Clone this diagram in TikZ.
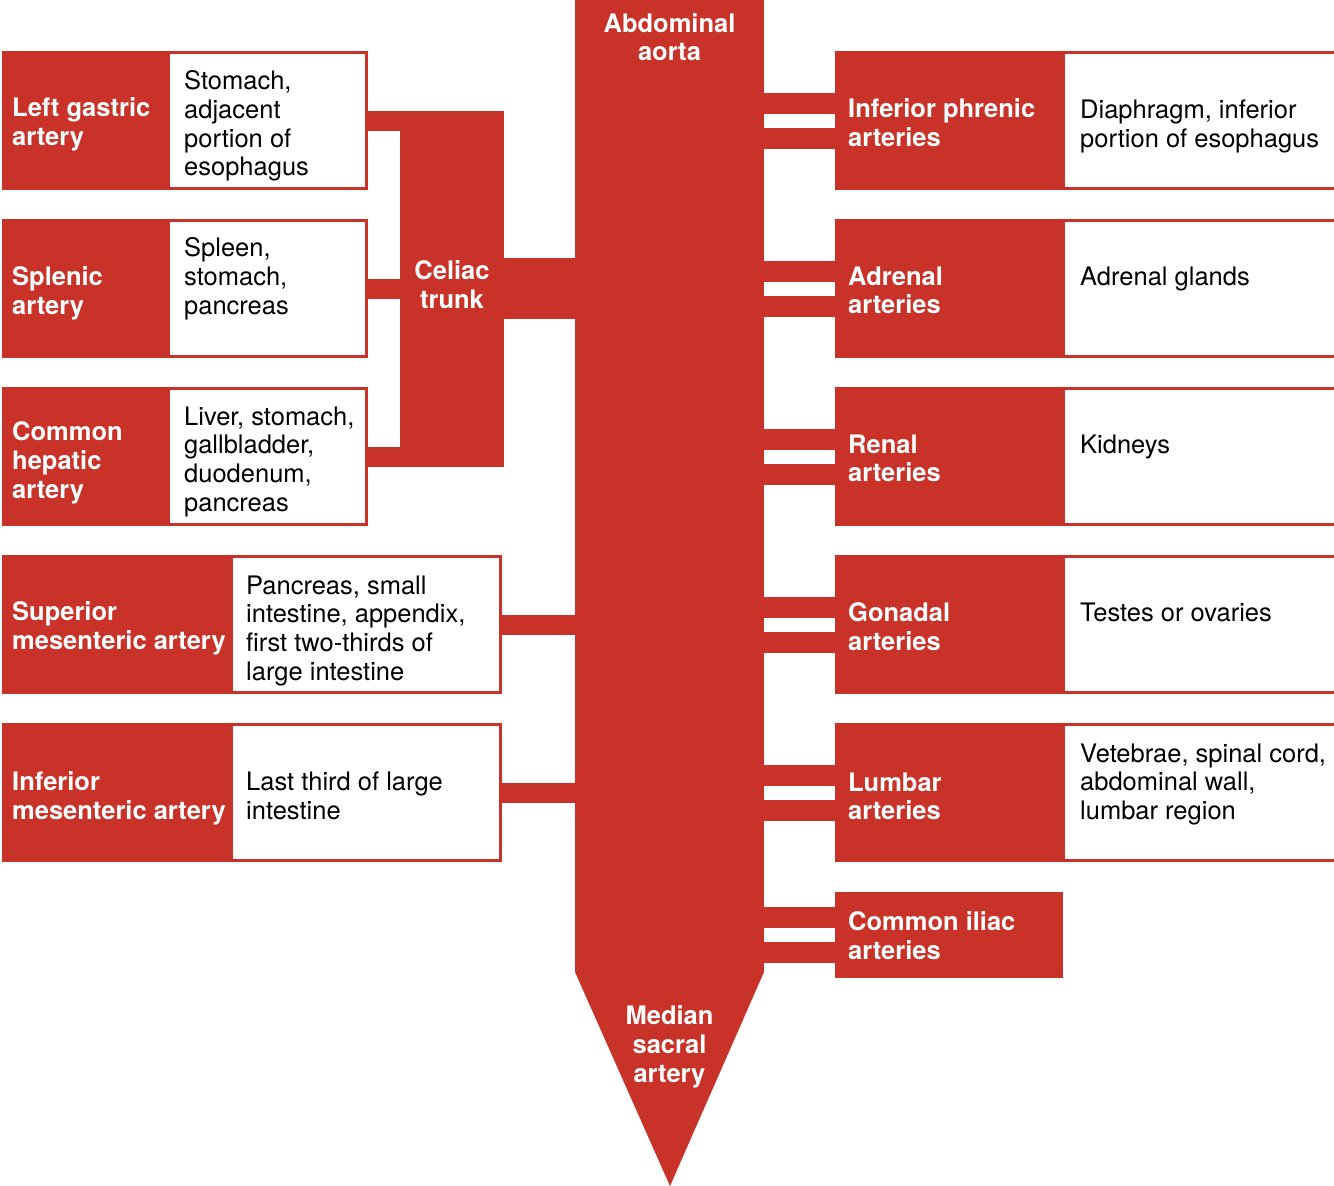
\documentclass[tikz,border=0pt]{standalone}
\usepackage{fontspec}
\setmainfont{TeX Gyre Heros}
\definecolor{artred}{RGB}{200,50,40}
\begin{document}
\begin{tikzpicture}[x=1pt,y=-1pt,
  redbox/.style={fill=artred, draw=none, anchor=north west, inner sep=0pt, outer sep=0pt},
  whitebox/.style={fill=white, draw=none, anchor=north west, inner sep=0pt, outer sep=0pt},
  lab/.style={text=white, font=\fontsize{25.5}{28.7}\selectfont\bfseries, align=left, anchor=north west, inner sep=0pt, yshift=1.5pt},
  desc/.style={text=black, font=\fontsize{25.5}{28.7}\selectfont, align=left, anchor=north west, inner sep=0pt, yshift=1.5pt},
  bar/.style={draw=artred, line width=20pt},
  dbar/.style={draw=artred, line width=21pt, double=white, double distance=14pt}]
\useasboundingbox[fill=white] (0,0) rectangle (1334,1186);

% aorta
\node[redbox, minimum width=189pt, minimum height=972pt] (aorta) at (575,0) {};
\coordinate (tip) at (670,1186);
\fill[artred] (aorta.south west) -- (tip) -- (aorta.south east) -- cycle;
\node[lab, anchor=north, align=center, yshift=-1.5pt] (aortatxt) at (669.5,13) {Abdominal\\aorta};
\node[lab, anchor=north, align=center] (sacral) at (669.5,1007) {Median\\sacral\\artery};

% celiac trunk
\node[redbox, minimum width=104pt, minimum height=356pt] (celiac) at (400,111) {};
\node[lab, anchor=north, align=center] (celiactxt) at (452,262) {Celiac\\trunk};

% left rows
\node[redbox, minimum width=366pt, minimum height=139pt] (lg) at (2,51) {};
\node[whitebox, minimum width=195pt, minimum height=133pt] (lgw) at (170,54) {};
\node[redbox, minimum width=366pt, minimum height=139pt] (sp) at (2,219) {};
\node[whitebox, minimum width=195pt, minimum height=133pt] (spw) at (170,222) {};
\node[redbox, minimum width=366pt, minimum height=139pt] (ch) at (2,387) {};
\node[whitebox, minimum width=195pt, minimum height=133pt] (chw) at (170,390) {};
\node[redbox, minimum width=500pt, minimum height=139pt] (sm) at (2,555) {};
\node[whitebox, minimum width=266pt, minimum height=133pt] (smw) at (233,558) {};
\node[redbox, minimum width=500pt, minimum height=139pt] (im) at (2,723) {};
\node[whitebox, minimum width=266pt, minimum height=133pt] (imw) at (233,726) {};

\draw[bar] (lg.east) -- (lg.east -| celiac.west);
\draw[bar] (sp.east) -- (sp.east -| celiac.west);
\draw[bar] (ch.east) -- (ch.east -| celiac.west);
\draw[draw=artred, line width=61pt] (celiac.east |- sp.east) -- (sp.east -| aorta.west);
\draw[bar] (sm.east) -- (sm.east -| aorta.west);
\draw[bar] (im.east) -- (im.east -| aorta.west);

\node[lab] (lgl) at (12,99) {Left gastric\\artery};
\node[lab] (spl) at (12,268) {Splenic\\artery};
\node[lab] (chl) at (12,423) {Common\\hepatic\\artery};
\node[lab] (sml) at (12,603) {Superior\\mesenteric artery};
\node[lab] (iml) at (12,773) {Inferior\\mesenteric artery};

\node[desc] (lgd) at (184,72) {Stomach,\\adjacent\\portion of\\esophagus};
\node[desc] (spd) at (184,239) {Spleen,\\stomach,\\pancreas};
\node[desc] (chd) at (184,408) {Liver, stomach,\\gallbladder,\\duodenum,\\pancreas};
\node[desc] (smd) at (246,577) {Pancreas, small\\intestine, appendix,\\first two-thirds of\\large intestine};
\node[desc] (imd) at (246,773) {Last third of large\\intestine};

% right rows
\node[redbox, minimum width=499pt, minimum height=139pt] (ip) at (835,51) {};
\node[whitebox, minimum width=269pt, minimum height=133pt] (ipw) at (1065,54) {};
\node[redbox, minimum width=499pt, minimum height=139pt] (ad) at (835,219) {};
\node[whitebox, minimum width=269pt, minimum height=133pt] (adw) at (1065,222) {};
\node[redbox, minimum width=499pt, minimum height=139pt] (re) at (835,387) {};
\node[whitebox, minimum width=269pt, minimum height=133pt] (rew) at (1065,390) {};
\node[redbox, minimum width=499pt, minimum height=139pt] (go) at (835,555) {};
\node[whitebox, minimum width=269pt, minimum height=133pt] (gow) at (1065,558) {};
\node[redbox, minimum width=499pt, minimum height=139pt] (lu) at (835,723) {};
\node[whitebox, minimum width=269pt, minimum height=133pt] (luw) at (1065,726) {};
\node[redbox, minimum width=228pt, minimum height=86pt] (ci) at (835,892) {};

\draw[dbar] (ip.west) -- (ip.west -| aorta.east);
\draw[dbar] (ad.west) -- (ad.west -| aorta.east);
\draw[dbar] (re.west) -- (re.west -| aorta.east);
\draw[dbar] (go.west) -- (go.west -| aorta.east);
\draw[dbar] (lu.west) -- (lu.west -| aorta.east);
\draw[dbar] (ci.west) -- (ci.west -| aorta.east);

\node[lab] (ipl) at (848,100) {Inferior phrenic\\arteries};
\node[lab] (adl) at (848,268) {Adrenal\\arteries};
\node[lab] (rel) at (848,436) {Renal\\arteries};
\node[lab] (gol) at (848,604) {Gonadal\\arteries};
\node[lab] (lul) at (848,774) {Lumbar\\arteries};
\node[lab] (cil) at (848,913) {Common iliac\\arteries};

\node[desc] (ipd) at (1080,101) {Diaphragm, inferior\\portion of esophagus};
\node[desc] (add) at (1080,268) {Adrenal glands};
\node[desc] (red) at (1080,436) {Kidneys};
\node[desc] (god) at (1080,604) {Testes or ovaries};
\node[desc] (lud) at (1080,745) {Vetebrae, spinal cord,\\abdominal wall,\\lumbar region};
\end{tikzpicture}
\end{document}
